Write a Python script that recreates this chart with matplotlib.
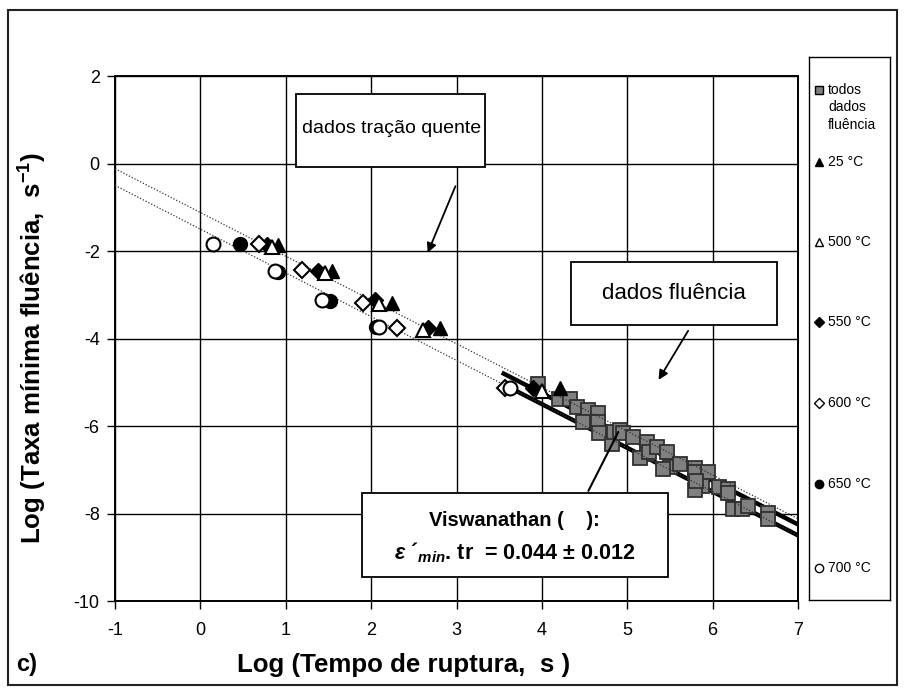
import matplotlib
matplotlib.use("Agg")
import matplotlib.pyplot as plt
from matplotlib.patches import Rectangle

plt.rcParams['font.family'] = ['Liberation Sans', 'DejaVu Sans']
plt.rcParams['axes.unicode_minus'] = False
plt.rcParams['mathtext.fontset'] = 'custom'
plt.rcParams['mathtext.rm'] = 'Liberation Sans'
plt.rcParams['mathtext.it'] = 'Liberation Sans:italic:bold'
plt.rcParams['mathtext.bf'] = 'Liberation Sans:bold'

# todos dados fluencia (log tr, log taxa minima)
fl_x = [3.95, 4.20, 4.33, 4.41, 4.54, 4.66, 4.48, 4.66, 4.67, 4.82, 4.85, 4.91,
        4.95, 5.07, 5.23, 5.23, 5.15, 5.25, 5.35, 5.46, 5.50, 5.42, 5.62, 5.79,
        5.79, 5.94, 5.87, 5.79, 5.81, 6.08, 6.18, 6.18, 6.24, 6.34, 6.41, 6.65, 6.65]
fl_y = [-5.03, -5.39, -5.39, -5.57, -5.64, -5.71, -5.90, -5.90, -6.17, -6.40, -6.13, -6.08,
        -6.17, -6.26, -6.36, -6.63, -6.72, -6.60, -6.48, -6.60, -6.94, -6.98, -6.86, -6.97,
        -7.06, -7.06, -7.36, -7.47, -7.25, -7.40, -7.43, -7.54, -7.89, -7.89, -7.82, -7.98, -8.12]

# tracao a quente
t25_x = [0.91, 1.54, 2.24, 2.81, 4.21]
t25_y = [-1.87, -2.45, -3.18, -3.77, -5.14]
t500_x = [0.84, 1.46, 2.09, 2.61, 4.00]
t500_y = [-1.90, -2.50, -3.20, -3.80, -5.19]
t550_x = [0.78, 1.38, 2.04, 2.67, 3.90]
t550_y = [-1.87, -2.45, -3.13, -3.75, -5.14]
t600_x = [0.69, 1.19, 1.90, 2.30, 3.57]
t600_y = [-1.83, -2.43, -3.18, -3.77, -5.14]
t650_x = [0.46, 0.91, 1.52, 2.06]
t650_y = [-1.85, -2.47, -3.15, -3.73]
t700_x = [0.15, 0.87, 1.42, 2.09, 3.63]
t700_y = [-1.85, -2.45, -3.13, -3.73, -5.12]

# retas de Monkman-Grant: log(taxa) = log(C) - log(tr)
dot_x = [-1, 7]
dot_c = [-1.12, -1.50]
thick_x = [[3.53, 7.0], [3.66, 7.0]]
thick_c = [-1.25, -1.50]

fig = plt.figure(figsize=(9.05, 6.93), dpi=100)
ax = fig.add_axes([115/905, 1-601/693, (798-115)/905, (601-76)/693])

for c, xs in zip(thick_c, thick_x):
    ax.plot(xs, [c - x for x in xs], color='black', lw=3.2, zorder=2, solid_capstyle='butt')
ax.plot(fl_x, fl_y, 's', ms=9.5, mfc='#808080', mec='#303030', mew=1.3, ls='none', zorder=3)
for c in dot_c:
    ax.plot(dot_x, [c - x for x in dot_x], color='#333333', lw=0.9, ls=(0, (1, 1.5)), zorder=4)

ax.plot(t25_x, t25_y, '^', ms=10, mfc='black', mec='black', ls='none', zorder=5)
ax.plot(t550_x, t550_y, 'D', ms=8.5, mfc='black', mec='black', ls='none', zorder=5)
ax.plot(t500_x, t500_y, '^', ms=10, mfc='white', mec='black', mew=1.5, ls='none', zorder=5)
ax.plot(t600_x, t600_y, 'D', ms=8.5, mfc='white', mec='black', mew=1.5, ls='none', zorder=5)
ax.plot(t650_x, t650_y, 'o', ms=10, mfc='black', mec='black', ls='none', zorder=5)
ax.plot(t700_x, t700_y, 'o', ms=10, mfc='white', mec='black', mew=1.5, ls='none', zorder=5)

ax.set_xlim(-1, 7)
ax.set_ylim(-10, 2)
ax.set_xticks(range(-1, 8))
ax.set_yticks(range(-10, 3, 2))
ax.grid(True, color='black', lw=1.0)
ax.set_axisbelow(True)
for s in ax.spines.values():
    s.set_linewidth(1.4)
ax.tick_params(direction='out', length=6, width=1, labelsize=13, pad=5)
ax.tick_params(axis='x', pad=9)

# caixas de texto
def caixa(x0, x1, y0, y1):
    ax.add_patch(Rectangle((x0, y0), x1 - x0, y1 - y0, facecolor='white',
                           edgecolor='black', lw=1.3, zorder=6))

caixa(1.12, 3.33, -0.07, 1.60)
ax.text(2.24, 0.80, 'dados tração quente', ha='center', va='center', fontsize=14, zorder=7)
ax.annotate('', xy=(2.65, -2.10), xytext=(3.00, -0.46),
            arrowprops=dict(arrowstyle='-|>', color='black', lw=1.3, mutation_scale=14), zorder=7)

caixa(4.34, 6.75, -3.70, -2.26)
ax.text(5.55, -2.97, 'dados fluência', ha='center', va='center', fontsize=16, zorder=7)
ax.annotate('', xy=(5.35, -5.00), xytext=(5.73, -3.77),
            arrowprops=dict(arrowstyle='-|>', color='black', lw=1.3, mutation_scale=14), zorder=7)

caixa(1.89, 5.48, -9.46, -7.54)
ax.text(3.68, -8.16, 'Viswanathan (    ):', ha='center', va='center', fontsize=14.5,
        fontweight='bold', zorder=7)
ax.text(3.68, -8.89, r'$\varepsilon$ ´$_{min}$. tr  = 0.044 ± 0.012', ha='center', va='center',
        fontsize=15.5, fontweight='bold', zorder=7)
ax.annotate('', xy=(4.91, -6.08), xytext=(4.53, -7.54),
            arrowprops=dict(arrowstyle='-', color='black', lw=1.5), zorder=7)

# rotulos
fig.text(33/905, 1-348/693, r'Log (Taxa mínima fluência,  s$^{\mathbf{-1}}$)', rotation=90,
         ha='center', va='center', fontsize=18.6, fontweight='bold')
fig.text(404/905, 1-665/693, 'Log (Tempo de ruptura,  s )', ha='center', va='center',
         fontsize=18.6, fontweight='bold')
fig.text(16/905, 1-665/693, 'c)', ha='left', va='center', fontsize=17, fontweight='bold')

# legenda
leg = fig.add_axes([809/905, 1-600/693, (890-809)/905, (600-57)/693])
leg.set_xlim(0, 81)
leg.set_ylim(600, 57)
leg.set_xticks([])
leg.set_yticks([])
for s in leg.spines.values():
    s.set_linewidth(1.0)
leg_y = [90, 162, 242, 322, 403, 484, 568]
leg_lab = ['todos\ndados\nfluência', '25 °C', '500 °C', '550 °C', '600 °C', '650 °C', '700 °C']
leg_mk = [('s', '#808080'), ('^', 'black'), ('^', 'white'), ('D', 'black'),
          ('D', 'white'), ('o', 'black'), ('o', 'white')]
for yy, lab, (m, fc) in zip(leg_y, leg_lab, leg_mk):
    leg.plot([10], [yy], m, ms=6 if m != 'D' else 5, mfc=fc, mec='black', mew=1.0)
    leg.text(19, yy - 7, lab, ha='left', va='top', fontsize=10, linespacing=1.3)

# moldura externa
fig.patches.append(Rectangle((8/905, 8/693), 889/905, 675/693, transform=fig.transFigure,
                             fill=False, edgecolor='#222222', lw=1.5))

fig.savefig('out.png', dpi=100)
